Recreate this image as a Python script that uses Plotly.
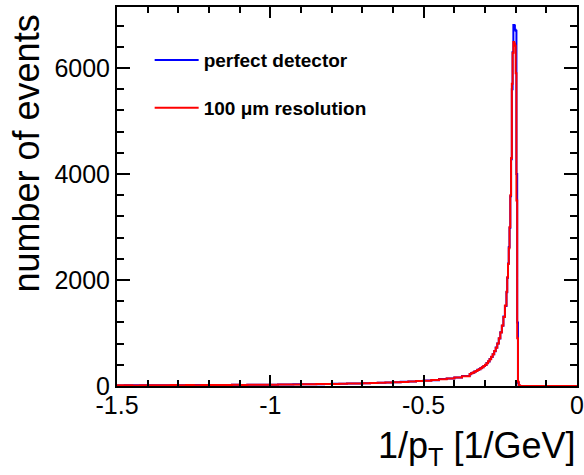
import plotly.graph_objects as go

# ---------------- data ----------------
# tail region: bins of width 0.025 from -1.5 to -0.35
tail_start, tail_width = -1.5, 0.025
tail_perfect = [10, 15, 12, 14, 14, 15, 16, 16, 14, 19,
                17, 18, 19, 21, 18, 23, 20, 24, 23, 24,
                25, 26, 29, 31, 31, 34, 35, 39, 41, 42,
                46, 49, 51, 57, 61, 64, 71, 78, 83, 94,
                102, 110, 130, 142, 158, 188]
tail_res100 = [12, 14, 11, 15, 13, 16, 14, 17, 15, 18,
               16, 19, 18, 20, 19, 22, 21, 23, 22, 25,
               24, 27, 28, 30, 32, 33, 36, 38, 40, 43,
               45, 48, 52, 56, 60, 65, 70, 76, 84, 92,
               100, 112, 128, 140, 160, 185]

# rising region: bins of width 0.005 from -0.35 to -0.23
mid_start, mid_width = -0.35, 0.005
mid_perfect = [222, 243, 252, 274, 283, 305, 315, 338, 352, 379,
               395, 435, 462, 510, 548, 600, 655, 725, 800, 895,
               1015, 1135, 1310, 1510]
mid_res100 = [225, 240, 255, 270, 285, 300, 318, 336, 355, 375,
              400, 430, 465, 505, 550, 600, 660, 720, 800, 900,
              1010, 1140, 1300, 1520]

# peak region: bins of width 0.0025 from -0.23 to -0.185
peak_start, peak_width = -0.23, 0.0025
peak_perfect = [1770, 2040, 2310, 2620, 2980, 3580, 4280, 5600, 6300,
                6810, 6800, 6720, 6700, 4000, 1200, 60, 10, 0]
peak_res100 = [1780, 2050, 2300, 2600, 3000, 3600, 4300, 5700, 6280,
               6490, 6460, 6420, 5900, 3500, 900, 80, 20, 5]

# empty region after the cut-off: one bin up to 0
empty_edges = [-0.185, 0.0]
empty_counts = [0]

x_tickvals = [-1.5, -1.0, -0.5, 0.0]
x_ticktext = ["-1.5", "-1", "-0.5", "0"]
y_tickvals = [0, 2000, 4000, 6000]
y_ticktext = ["0", "2000", "4000", "6000"]

series_names = ["perfect detector", "100 \u03bcm resolution"]
series_colors = ["#0000ff", "#ff0000"]


def region_edges(start, width, n):
    return [start + i * width for i in range(n)]


def build(tail, mid, peak):
    lefts = (region_edges(tail_start, tail_width, len(tail))
             + region_edges(mid_start, mid_width, len(mid))
             + region_edges(peak_start, peak_width, len(peak))
             + empty_edges[:1])
    counts = list(tail) + list(mid) + list(peak) + empty_counts
    xs = lefts + [empty_edges[-1]]
    ys = counts + [counts[-1]]
    return xs, ys


FONT = "Liberation Sans, Arial, Helvetica, sans-serif"

fig = go.Figure()
for (tail, mid, peak), name, color in zip(
        [(tail_perfect, mid_perfect, peak_perfect),
         (tail_res100, mid_res100, peak_res100)],
        series_names, series_colors):
    xs, ys = build(tail, mid, peak)
    fig.add_trace(go.Scatter(
        x=xs, y=ys, mode="lines", name=name,
        line=dict(color=color, width=2, shape="hv"),
        legendgroup=name,
    ))

fig.update_layout(
    width=584, height=475,
    margin=dict(l=117, r=7, t=7, b=89, autoexpand=False),
    paper_bgcolor="white", plot_bgcolor="white",
    font=dict(family=FONT, color="black"),
    showlegend=True,
    legend=dict(
        x=0.071, y=0.91, xanchor="left", yanchor="top",
        bgcolor="rgba(255,255,255,0)", borderwidth=0,
        font=dict(family=FONT, size=19, color="black", weight="bold"),
        tracegroupgap=20, itemwidth=44,
    ),
)

fig.update_xaxes(
    range=[-1.5, 0.0], showgrid=False, zeroline=False, automargin=False,
    showline=True, linecolor="black", linewidth=2, mirror="ticks",
    ticks="inside", ticklen=11, tickwidth=1.5, tickcolor="black",
    tickvals=x_tickvals, ticktext=x_ticktext, ticklabelstandoff=-4,
    tickfont=dict(family=FONT, size=25, color="black"),
    minor=dict(ticks="inside", ticklen=6, tickwidth=1.5, tickcolor="black", dtick=0.1),
)
fig.update_yaxes(
    range=[0, 7150], showgrid=False, zeroline=False, automargin=False,
    showline=True, linecolor="black", linewidth=2, mirror="ticks",
    ticks="inside", ticklen=13, tickwidth=1.5, tickcolor="black",
    tickvals=y_tickvals, ticktext=y_ticktext,
    tickfont=dict(family=FONT, size=25, color="black"),
    minor=dict(ticks="inside", ticklen=7, tickwidth=1.5, tickcolor="black", dtick=400),
)

fig.add_annotation(
    text="1/p<sub>T</sub> [1/GeV]", xref="paper", yref="paper",
    x=1.003, y=-0.097, xanchor="right", yanchor="top", showarrow=False,
    font=dict(family=FONT, size=36, color="black"),
)
fig.add_annotation(
    text="number of events", xref="paper", yref="paper",
    x=-0.196, y=0.985, xanchor="center", yanchor="top", showarrow=False,
    textangle=-90, font=dict(family=FONT, size=36, color="black"),
)

fig.write_html(
    "out.html",
    config={"displayModeBar": False},
    post_script="document.body.style.margin='0';document.body.style.overflow='hidden';",
)
